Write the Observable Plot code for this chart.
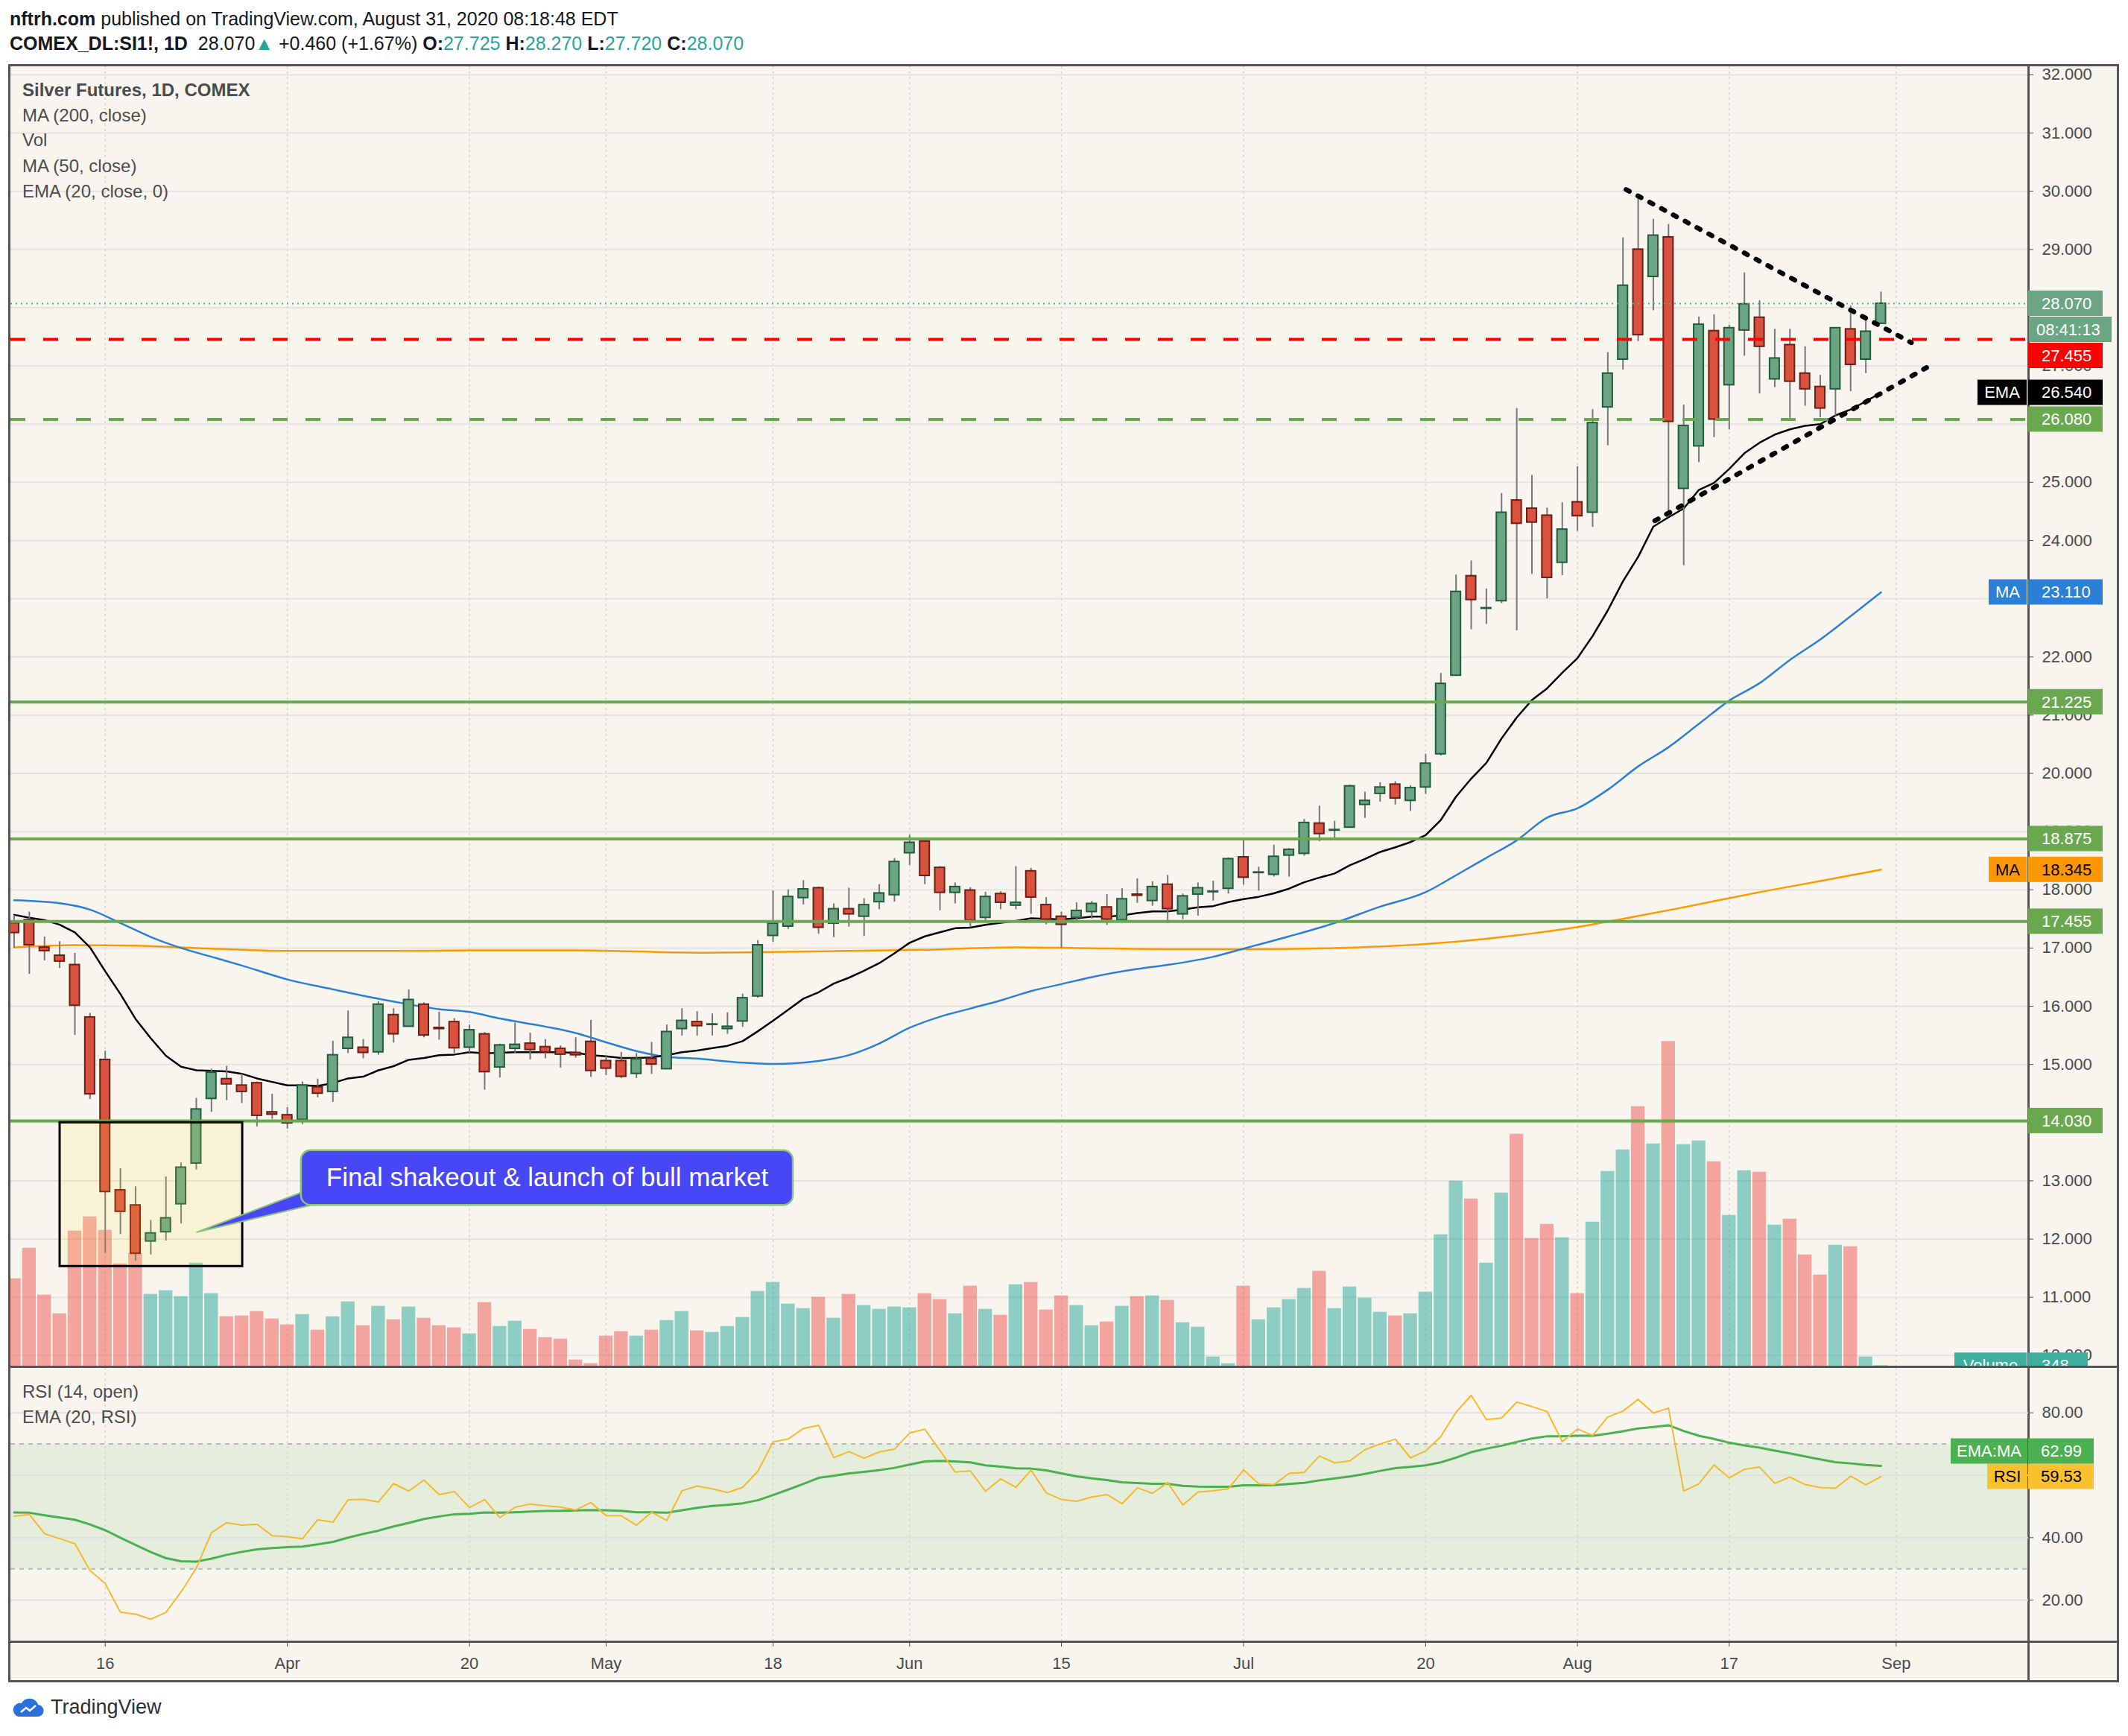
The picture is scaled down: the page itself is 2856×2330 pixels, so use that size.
<!DOCTYPE html>
<html><head><meta charset="utf-8">
<script src="https://cdn.jsdelivr.net/npm/d3@7"></script>
<script src="https://cdn.jsdelivr.net/npm/@observablehq/plot@0.6"></script>
<style>
html,body{margin:0;padding:0;background:#ffffff;}
body{width:2856px;height:2330px;position:relative;overflow:hidden;font-family:"Liberation Sans",Arial,sans-serif;color:#131722;}
.abs{position:absolute;}
.hdr{position:absolute;left:13px;font-size:25px;line-height:30px;white-space:nowrap;color:#131722;}
.teal{color:#26a69a;}
.leg{position:absolute;left:30px;font-size:24px;line-height:28px;color:#4c4c4c;white-space:nowrap;}
svg{display:block;}
</style></head><body>
<div class="hdr" style="top:10px"><b>nftrh.com</b> published on TradingView.com, August 31, 2020 08:18:48 EDT</div>
<div class="hdr" style="top:43px"><b>COMEX_DL:SI1!, 1D</b>&nbsp; 28.070<span class="teal">▲</span> +0.460 (+1.67%) <b>O:</b><span class="teal">27.725</span> <b>H:</b><span class="teal">28.270</span> <b>L:</b><span class="teal">27.720</span> <b>C:</b><span class="teal">28.070</span></div>

<div id="panel" class="abs" style="left:11px;top:86px;width:2827px;height:2166px;border:3px solid #555;background:#f7f5ee;z-index:0"></div>
<div id="gridLayer" class="abs" style="left:14px;top:89px;z-index:1"></div>
<div class="abs" style="left:2721px;top:89px;width:3px;height:2166px;background:#555;z-index:2"></div>
<div id="volLayer" class="abs" style="left:14px;top:89px;z-index:3"></div>
<div id="priceLayer" class="abs" style="left:14px;top:89px;z-index:4"></div>
<div class="abs" style="left:14px;top:1833px;width:2827px;height:3px;background:#555;z-index:5"></div>
<div id="rsiLayer" class="abs" style="left:14px;top:1836px;z-index:6"></div>
<div class="abs" style="left:14px;top:2202px;width:2827px;height:3px;background:#555;z-index:7"></div>

<div class="leg" style="top:107px;z-index:8;font-weight:bold;color:#4a4a4a">Silver Futures, 1D, COMEX</div>
<div class="leg" style="top:141px;z-index:8">MA (200, close)</div>
<div class="leg" style="top:174px;z-index:8">Vol</div>
<div class="leg" style="top:209px;z-index:8">MA (50, close)</div>
<div class="leg" style="top:243px;z-index:8">EMA (20, close, 0)</div>
<div class="leg" style="top:1854px;z-index:8">RSI (14, open)</div>
<div class="leg" style="top:1888px;z-index:8">EMA (20, RSI)</div>

<div class="abs" style="left:16px;top:2276px;display:flex;align-items:center;gap:8px;">
  <svg width="44" height="28" viewBox="0 0 44 28"><path d="M9 26 H34 A8 8 0 0 0 35 10 A12 12 0 0 0 13 8 A9 9 0 0 0 9 26 Z" fill="#2a6fdb"/><path d="M12 20 L19 14 L24 18 L32 11" stroke="#fff" stroke-width="2.5" fill="none"/></svg>
  <span style="font-size:27px;color:#2a2e39;">TradingView</span>
</div>

<script>
// ---------------- DATA ----------------
const tickIdx = [6, 18, 30, 39, 50, 59, 69, 81, 93, 103, 113, 124];
const tickLabels = ["16", "Apr", "20", "May", "18", "Jun", "15", "Jul", "20", "Aug", "17", "Sep"];
const priceTicks = [10,11,12,13,14,15,16,17,18,19,20,21,22,23,24,25,26,27,28,29,30,31,32];
const rsiTicks = [20, 40, 60, 80];

const open = [17.43,17.48,17.01,16.87,16.71,15.81,15.08,12.84,12.58,11.96,
12.12,12.60,13.30,14.41,14.75,14.64,14.68,14.18,14.13,14.05,
14.61,14.53,15.27,15.29,15.21,15.85,15.65,16.03,15.63,15.73,
15.29,15.52,14.95,15.27,15.36,15.30,15.27,15.20,15.39,15.06,
15.06,14.84,15.10,14.92,15.61,15.73,15.68,15.61,15.74,16.17,
17.21,17.37,17.86,18.03,17.42,17.67,17.54,17.79,17.91,18.63,
18.83,18.38,17.95,17.99,17.52,17.93,17.73,18.32,17.74,17.54,
17.52,17.62,17.70,17.48,17.92,17.81,18.09,17.58,17.92,17.96,
18.02,18.56,18.29,18.26,18.59,18.62,19.14,19.02,19.07,19.46,
19.65,19.81,19.53,19.76,20.33,21.68,23.39,22.83,22.96,24.69,
24.55,24.43,23.62,24.66,24.48,26.29,27.11,29.00,28.53,29.21,
24.89,25.62,27.60,26.67,27.61,27.83,26.77,27.36,26.87,26.64,
26.60,27.63,27.11,27.725];
const high = [17.56,17.62,17.19,17.11,16.91,15.88,15.23,13.21,12.90,12.32,
13.07,13.31,14.42,14.92,14.97,14.84,14.70,14.49,14.26,14.70,
14.75,15.40,15.92,15.43,16.08,15.96,16.28,16.06,15.90,15.79,
15.68,15.55,15.35,15.71,15.54,15.43,15.32,15.46,15.76,15.14,
15.21,15.19,15.38,15.68,15.96,15.91,15.87,15.89,16.21,17.13,
17.98,18.00,18.16,18.05,17.76,18.03,17.85,18.09,18.54,18.94,
18.85,18.40,18.12,18.04,17.96,17.97,18.40,18.37,17.87,17.62,
17.78,17.80,17.92,18.02,18.19,18.14,18.25,17.93,18.12,18.15,
18.55,18.85,18.39,18.77,18.71,19.21,19.44,19.18,19.80,19.68,
19.84,19.86,19.79,20.33,21.72,23.41,23.65,23.17,24.81,26.27,
25.12,24.56,24.65,25.27,26.25,27.23,29.20,29.92,29.52,29.43,
26.33,27.84,27.88,27.70,28.60,28.12,27.63,27.63,27.33,26.84,
27.65,28.03,27.82,28.27];
const low = [17.00,16.55,16.78,16.65,15.50,14.40,11.75,12.08,11.62,11.73,
11.97,12.26,13.19,14.18,14.38,14.33,13.93,14.06,13.89,13.97,
14.43,14.35,15.19,15.10,15.16,15.37,15.65,15.46,15.42,15.19,
15.20,14.56,14.77,15.19,15.08,15.10,14.94,15.11,14.78,14.81,
14.76,14.76,14.83,14.92,15.49,15.49,15.49,15.52,15.64,16.14,
17.10,17.32,17.74,17.24,17.18,17.36,17.20,17.66,17.79,18.42,
18.09,17.64,17.76,17.35,17.47,17.66,17.66,17.58,17.40,17.00,
17.46,17.50,17.39,17.48,17.77,17.72,17.42,17.49,17.55,17.81,
17.93,18.08,17.98,18.22,18.22,18.58,18.83,18.89,19.07,19.23,
19.51,19.46,19.35,19.64,20.30,21.67,22.47,22.56,22.92,22.45,
23.42,23.00,23.40,24.16,24.23,25.63,26.93,27.42,27.95,24.47,
23.57,25.34,25.77,25.90,27.17,26.52,26.63,26.10,26.31,26.11,
26.14,26.56,26.87,27.72];
const close = [17.26,17.05,16.95,16.77,16.01,14.49,12.81,12.47,11.75,12.10,
12.36,13.23,14.23,14.86,14.66,14.53,14.12,14.14,13.99,14.64,
14.50,15.16,15.46,15.20,16.03,15.52,16.11,15.50,15.61,15.28,
15.59,14.87,15.33,15.34,15.25,15.21,15.17,15.16,14.89,14.93,
14.79,15.09,15.00,15.56,15.75,15.66,15.69,15.65,16.14,17.05,
17.42,17.88,18.01,17.35,17.67,17.58,17.74,17.94,18.48,18.81,
18.24,17.95,18.05,17.47,17.88,17.78,17.78,17.87,17.49,17.40,
17.64,17.76,17.49,17.84,17.90,18.05,17.67,17.89,18.03,17.97,
18.53,18.21,18.30,18.57,18.69,19.15,18.96,19.03,19.78,19.53,
19.76,19.57,19.75,20.17,21.54,23.12,22.98,22.84,24.48,24.29,
24.31,23.36,24.19,24.42,26.02,26.87,28.38,27.53,29.24,26.04,
25.97,27.71,26.08,27.65,28.06,27.33,27.13,26.73,26.60,26.27,
27.65,27.02,27.59,28.07];
const volume = [58650,79150,47650,35150,90650,100150,91150,68650,75650,48150,
50650,46650,69150,48650,33150,33650,36650,31650,27650,34650,
24150,33150,43150,27150,40150,31150,39650,32150,27150,25650,
21650,42650,26650,30150,24650,19150,18150,4150,1650,20150,
23150,20150,24150,30650,36650,23650,22650,26650,32650,50150,
56150,41650,38650,46150,32150,48150,40650,38150,39650,39150,
48650,44650,35150,53650,38150,34150,54650,56150,37650,47150,
40650,27150,29650,40150,46650,47150,44150,29150,26150,6150,
1650,53650,31150,39150,44650,52150,63650,38650,53150,45650,
36150,33650,35150,49650,88150,124150,112150,69150,116150,155650,
85650,95150,86150,48650,96650,130650,145150,174150,149150,217850,
148650,151150,137150,101150,131150,130150,94650,98650,74650,61150,
81150,80150,6150,348];

const ema20 = [17.57,17.52,17.48,17.40,17.27,17.01,16.60,16.21,15.78,15.45,
15.15,14.96,14.90,14.89,14.88,14.84,14.76,14.70,14.64,14.64,
14.63,14.68,14.76,14.79,14.90,14.97,15.08,15.11,15.16,15.17,
15.21,15.19,15.20,15.21,15.21,15.21,15.21,15.20,15.16,15.14,
15.11,15.11,15.12,15.16,15.21,15.24,15.28,15.32,15.40,15.57,
15.75,15.94,16.13,16.24,16.39,16.49,16.61,16.74,16.91,17.09,
17.20,17.27,17.34,17.35,17.40,17.435,17.465,17.51,17.50,17.49,
17.51,17.54,17.54,17.56,17.60,17.63,17.63,17.66,17.70,17.72,
17.79,17.84,17.88,17.94,18.02,18.13,18.21,18.28,18.42,18.53,
18.65,18.73,18.82,18.94,19.20,19.60,19.91,20.18,20.60,20.96,
21.26,21.46,21.73,21.98,22.36,22.80,23.30,23.72,24.24,24.40,
24.55,24.87,24.99,25.23,25.50,25.68,25.82,25.91,25.97,26.00,
26.15,26.25,26.39,26.54];

const ma50Idx = [0,3,5,7,9,11,13,15,18,21,23,25,28,30,32,35,37,39,41,43,45,48,50,53,55,57,59,61,63,65,67,69,71,74,76,79,81,84,87,90,93,95,97,99,101,103,105,107,109,111,113,115,117,119,121,123];
const ma50Val = [17.82,17.77,17.66,17.43,17.19,17.00,16.85,16.70,16.46,16.29,16.18,16.08,15.95,15.90,15.79,15.65,15.54,15.38,15.23,15.13,15.10,15.03,15.01,15.06,15.16,15.36,15.63,15.82,15.96,16.10,16.26,16.38,16.50,16.64,16.71,16.85,16.99,17.20,17.43,17.71,17.96,18.25,18.55,18.85,19.24,19.40,19.72,20.12,20.45,20.85,21.25,21.55,21.95,22.30,22.70,23.11];

const ma200Idx = [0,4,8,12,18,25,30,37,45,50,55,60,66,70,76,81,87,93,97,100,103,106,110,115,119,123];
const ma200Val = [17.01,17.05,17.04,17.00,16.95,16.95,16.96,16.96,16.92,16.93,16.95,16.97,17.01,17.00,16.98,16.98,17.00,17.07,17.16,17.25,17.36,17.50,17.70,17.96,18.15,18.345];

const rsi = [46.87,47.42,41.28,39.68,38.08,29.46,25.31,16.13,15.49,13.89,
16.05,22.67,30.26,41.60,44.80,43.99,44.31,40.64,40.32,39.68,
45.75,44.95,52.14,52.30,51.42,57.32,54.93,58.44,53.81,54.77,
49.66,52.22,46.39,49.74,50.78,50.22,49.82,48.86,51.26,47.03,
47.03,43.99,48.14,45.51,55.01,56.53,55.65,54.45,56.13,61.24,
70.66,71.62,74.97,76.01,65.63,67.55,65.47,67.47,68.34,73.53,
74.73,67.90,61.00,61.40,54.85,58.84,56.13,61.64,54.37,52.22,
51.66,53.01,53.81,50.86,55.97,54.21,57.64,50.46,54.61,55.01,
55.65,61.72,57.24,57.00,60.60,60.92,66.19,63.95,64.59,68.18,
70.02,71.54,65.55,67.78,72.42,80.16,85.59,77.84,78.32,83.43,
82.00,80.40,70.74,74.81,72.73,78.64,80.56,84.31,79.92,81.52,
54.93,57.24,63.31,59.16,61.88,62.60,57.40,59.40,57.00,56.05,
55.81,59.72,56.93,59.53];
const rsiEma = [48.06,47.98,47.19,46.47,45.75,44.23,42.40,40.00,37.68,35.37,
33.45,32.42,32.34,33.29,34.49,35.45,36.25,36.65,36.97,37.13,
37.84,38.64,40.00,41.20,42.24,43.59,44.71,45.99,46.79,47.50,
47.66,48.06,47.98,48.14,48.38,48.54,48.62,48.70,48.86,48.78,
48.62,48.14,48.14,47.98,48.78,49.58,50.14,50.54,51.02,51.98,
53.65,55.41,57.25,59.16,59.80,60.60,61.08,61.64,62.36,63.39,
64.43,64.59,64.43,64.11,63.15,62.75,62.20,62.12,61.56,60.60,
59.64,59.00,58.44,57.72,57.48,57.25,57.25,56.61,56.37,56.29,
56.29,56.77,56.77,56.85,57.17,57.56,58.36,59.00,59.56,60.44,
61.40,62.28,62.67,63.15,64.11,65.63,67.39,68.50,69.46,70.66,
71.78,72.50,72.50,72.65,72.65,73.29,74.09,74.97,75.45,76.00,
74.17,72.65,71.62,70.42,69.54,68.82,67.86,66.99,66.03,65.07,
64.19,63.79,63.30,62.99];

const levelsSolid = [21.225, 18.875, 17.455, 14.03];
const levelRedDash = [27.455];
const levelGreenDash = [26.08];
const lastPrice = [28.07];
const trendUpper = [[106.2, 30.03], [125.0, 27.40]];
const trendLower = [[108.1, 24.34], [126.0, 26.97]];
const shakeoutBox = [{x1: 3.02, x2: 15.05, y1: 11.53, y2: 14.0}];
const bubble = [{x1: 18.92, x2: 51.33, y1: 12.58, y2: 13.52, text: "Final shakeout & launch of bull market"}];
const pointer = [[18.92, 12.80], [12.04, 12.12], [19.51, 12.58], [18.92, 12.80]];

const priceLabelValues = [28.07, 27.455, 26.54, 26.08, 23.11, 21.225, 18.875, 18.345, 17.455, 14.03];
const priceLabelTags = [null, null, "EMA", null, "MA", null, null, "MA", null, null];
const priceLabelFills = ["#6ba583", "#ff0000", "#000000", "#6aa84f", "#2b7fd6", "#6aa84f", "#6aa84f", "#ff9800", "#6aa84f", "#6aa84f"];
const priceLabelInk = ["#fff", "#fff", "#fff", "#fff", "#fff", "#fff", "#fff", "#000", "#fff", "#fff"];
const countdown = "08:41:13";
const lastVolume = 348;
const rsiLabelValues = [59.53, 62.99];
const rsiLabelTags = ["RSI", "EMA:MA"];
const rsiLabelFills = ["#fbc02d", "#4caf50"];
const rsiLabelInk = ["#000", "#fff"];

// ---------------- LAYOUT / SCALES ----------------
const FONT = "Liberation Sans, Arial, sans-serif";
const W = 2827, MR = 119;
const X_DOMAIN = [-0.2209, 132.72];
const PRICE_H = 1744;
const common = {width: W, marginLeft: 0, marginRight: MR, marginTop: 0,
  style: {background: "transparent", color: "#4a4a4a", fontFamily: FONT, overflow: "hidden"}};

const bars = open.map((o, i) => ({i, o, h: high[i], l: low[i], c: close[i], v: volume[i], up: close[i] >= open[i]}));
const ma50 = ma50Idx.map((x, k) => ({x, y: ma50Val[k]}));
const ma200 = ma200Idx.map((x, k) => ({x, y: ma200Val[k]}));

// grid layer
const gridPlot = Plot.plot({...common, height: PRICE_H, marginBottom: 0,
  x: {domain: X_DOMAIN, axis: null}, y: {domain: [9.8185, 32.14], axis: null},
  marks: [
    Plot.gridY(priceTicks, {stroke: "#e4e3de", strokeOpacity: 1, strokeWidth: 2}),
    Plot.gridX(tickIdx, {stroke: "#d6d6d2", strokeOpacity: 1, strokeWidth: 1.5, strokeDasharray: "3,4"})
  ]});
document.getElementById("gridLayer").appendChild(gridPlot);

// volume layer
const volPlot = Plot.plot({...common, height: PRICE_H, marginBottom: 0,
  x: {domain: X_DOMAIN, axis: null}, y: {domain: [0, 872000], axis: null},
  marks: [
    Plot.rect(bars, {x1: d => d.i - 0.45, x2: d => d.i + 0.45, y1: 0, y2: "v",
      fill: d => d.up ? "rgba(38,166,154,0.5)" : "rgba(239,83,80,0.5)"})
  ]});
document.getElementById("volLayer").appendChild(volPlot);

// price layer
const pricePlot = Plot.plot({...common, height: PRICE_H, marginBottom: 0,
  x: {domain: X_DOMAIN, axis: null}, y: {domain: [9.8185, 32.14], axis: null},
  marks: [
    Plot.line(ma200, {x: "x", y: "y", stroke: "#ff9800", strokeWidth: 2.5, curve: "monotone-x"}),
    Plot.line(ma50, {x: "x", y: "y", stroke: "#2b7fd6", strokeWidth: 2.5, curve: "monotone-x"}),
    Plot.line(ema20, {x: (d, i) => i, y: d => d, stroke: "#000", strokeWidth: 2.5}),
    Plot.ruleX(bars, {x: "i", y1: "l", y2: "h", stroke: "#777777", strokeWidth: 2}),
    Plot.rect(bars, {x1: d => d.i - 0.32, x2: d => d.i + 0.32,
      y1: d => Math.min(d.o, d.c), y2: d => Math.max(d.o, d.c),
      fill: d => d.up ? "#6ba583" : "#d9523f", stroke: d => d.up ? "#225b3a" : "#6e1c16", strokeWidth: 2}),
    Plot.ruleY(lastPrice, {stroke: "#6ba583", strokeWidth: 2, strokeDasharray: "2,5"}),
    Plot.ruleY(levelsSolid, {stroke: "#6aa84f", strokeWidth: 4}),
    Plot.ruleY(levelRedDash, {stroke: "#ff0000", strokeWidth: 4, strokeDasharray: "20,24"}),
    Plot.ruleY(levelGreenDash, {stroke: "#6aa84f", strokeWidth: 4, strokeDasharray: "20,24"}),
    Plot.line(trendUpper, {x: d => d[0], y: d => d[1], stroke: "#000", strokeWidth: 6.5, strokeDasharray: "5,13"}),
    Plot.line(trendLower, {x: d => d[0], y: d => d[1], stroke: "#000", strokeWidth: 6.5, strokeDasharray: "5,13"}),
    Plot.rect(shakeoutBox, {x1: "x1", x2: "x2", y1: "y1", y2: "y2", fill: "#ffeb3b", fillOpacity: 0.13, stroke: "#000", strokeWidth: 3}),
    Plot.line(pointer, {x: d => d[0], y: d => d[1], fill: "#4747f5", stroke: "#8fc27a", strokeWidth: 2}),
    Plot.rect(bubble, {x1: "x1", x2: "x2", y1: "y1", y2: "y2", fill: "#4747f5", stroke: "#8fc27a", strokeWidth: 2.5, rx: 13}),
    Plot.text(bubble, {x: d => (d.x1 + d.x2) / 2, y: d => (d.y1 + d.y2) / 2, text: "text", fill: "#fff", fontSize: 35}),
    Plot.axisY({anchor: "right", ticks: priceTicks, tickFormat: d3.format(".3f"), tickSize: 6, tickPadding: 12, fontSize: 22, label: null})
  ]});
document.getElementById("priceLayer").appendChild(pricePlot);

// right-axis price labels
(function () {
  const ys = pricePlot.scale("y");
  const g = d3.select(pricePlot).append("g").attr("font-family", FONT).attr("font-size", 22).attr("text-anchor", "start");
  const H = 34, VX = 2708, VW = 100, TAGR = 2706;
  const items = [];
  priceLabelValues.forEach((v, k) => {
    items.push({v, text: d3.format(".3f")(v), fill: priceLabelFills[k], ink: priceLabelInk[k], tag: priceLabelTags[k]});
    if (k === 0) items.push({countdown: true, text: countdown, fill: priceLabelFills[0], ink: "#fff"});
  });
  let prevBottom = -1e9;
  items.forEach(it => {
    const top = it.countdown ? prevBottom + 1 : Math.max(ys.apply(it.v) - H / 2, prevBottom + 1);
    const yc = top + H / 2;
    if (it.countdown) {
      g.append("rect").attr("x", VX + 1).attr("y", top).attr("width", 111).attr("height", H).attr("fill", it.fill);
      g.append("text").attr("x", VX + 11).attr("y", yc).attr("dy", "0.36em").attr("text-anchor", "start").attr("fill", it.ink).text(it.text);
    } else {
      g.append("rect").attr("x", VX).attr("y", top).attr("width", VW).attr("height", H).attr("fill", it.fill);
      g.append("text").attr("x", VX + 18).attr("y", yc).attr("dy", "0.36em").attr("text-anchor", "start").attr("fill", it.ink).text(it.text);
      if (it.tag) {
        const tw = it.tag === "EMA" ? 66 : 51;
        g.append("rect").attr("x", TAGR - tw).attr("y", top).attr("width", tw).attr("height", H).attr("fill", it.fill);
        g.append("text").attr("x", TAGR - tw / 2).attr("y", yc).attr("dy", "0.36em").attr("text-anchor", "middle").attr("fill", it.ink).text(it.tag);
      }
    }
    prevBottom = top + H;
  });
  // volume label (uses volume scale)
  const vy = volPlot.scale("y").apply(lastVolume);
  g.append("rect").attr("x", TAGR - 97).attr("y", vy - 17).attr("width", 97).attr("height", H).attr("fill", "#3fae9f");
  g.append("text").attr("x", TAGR - 48.5).attr("y", vy).attr("dy", "0.36em").attr("text-anchor", "middle").attr("fill", "#fff").text("Volume");
  g.append("rect").attr("x", VX).attr("y", vy - 17).attr("width", 80).attr("height", H).attr("fill", "#3fae9f");
  g.append("text").attr("x", VX + 18).attr("y", vy).attr("dy", "0.36em").attr("text-anchor", "start").attr("fill", "#fff").text(String(lastVolume));
})();

// RSI pane
const rsiPlot = Plot.plot({...common, height: 419, marginBottom: 52,
  x: {domain: X_DOMAIN, axis: null}, y: {domain: [6.66, 94.25], axis: null},
  marks: [
    Plot.rect([{y1: 30, y2: 70}], {y1: "y1", y2: "y2", fill: "rgba(76,175,80,0.1)"}),
    Plot.gridY(rsiTicks, {stroke: "#e1e1dc", strokeOpacity: 1, strokeWidth: 2}),
    Plot.gridX(tickIdx, {stroke: "#d6d6d2", strokeOpacity: 1, strokeWidth: 1.5, strokeDasharray: "3,4"}),
    Plot.ruleY([30, 70], {stroke: "#b9b9b6", strokeWidth: 2, strokeDasharray: "6,6"}),
    Plot.line(rsiEma, {x: (d, i) => i, y: d => d, stroke: "#4caf50", strokeWidth: 3}),
    Plot.line(rsi, {x: (d, i) => i, y: d => d, stroke: "#f5b82e", strokeWidth: 2}),
    Plot.axisY({anchor: "right", ticks: rsiTicks, tickFormat: d3.format(".2f"), tickSize: 6, tickPadding: 12, fontSize: 22, label: null}),
    Plot.axisX({anchor: "bottom", ticks: tickIdx, tickFormat: d => tickLabels[tickIdx.indexOf(d)], tickSize: 7, tickPadding: 14, fontSize: 22, label: null})
  ]});
document.getElementById("rsiLayer").appendChild(rsiPlot);

(function () {
  const ys = rsiPlot.scale("y");
  const g = d3.select(rsiPlot).append("g").attr("font-family", FONT).attr("font-size", 22).attr("text-anchor", "start");
  const H = 34, VX = 2708, VW = 88, TAGR = 2707;
  let prevTop = 1e9;
  rsiLabelValues.forEach((v, k) => {
    const bottom = Math.min(ys.apply(v) + H / 2, prevTop);
    const top = bottom - H, yc = top + H / 2;
    const tw = rsiLabelTags[k] === "RSI" ? 54 : 103;
    g.append("rect").attr("x", TAGR - tw).attr("y", top).attr("width", tw).attr("height", H).attr("fill", rsiLabelFills[k]);
    g.append("text").attr("x", TAGR - tw / 2).attr("y", yc).attr("dy", "0.36em").attr("text-anchor", "middle").attr("fill", rsiLabelInk[k]).text(rsiLabelTags[k]);
    g.append("rect").attr("x", VX).attr("y", top).attr("width", VW).attr("height", H).attr("fill", rsiLabelFills[k]);
    g.append("text").attr("x", VX + 17).attr("y", yc).attr("dy", "0.36em").attr("text-anchor", "start").attr("fill", rsiLabelInk[k]).text(d3.format(".2f")(v));
    prevTop = top;
  });
})();
</script>
</body></html>
